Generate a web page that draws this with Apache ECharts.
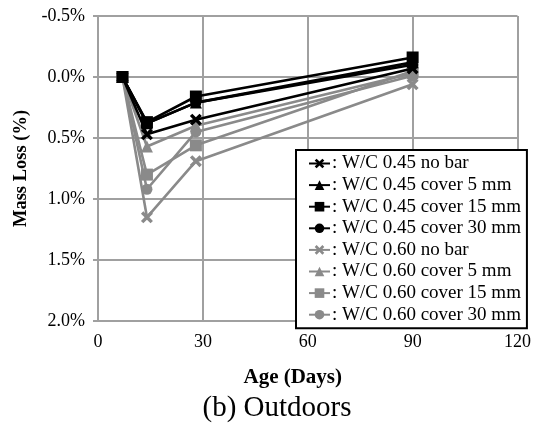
<!DOCTYPE html>
<html>
<head>
<meta charset="utf-8">
<script src="https://cdn.jsdelivr.net/npm/echarts@6/dist/echarts.min.js"></script>
<style>
  html, body { margin: 0; padding: 0; background: #fff; }
  #chart { width: 534px; height: 430px; }
</style>
</head>
<body>
<div id="chart"></div>
<script>
// Measurement ages (days)
const ages = [7, 14, 28, 90];

// Mass loss (%) per specimen group
const wc45NoBar   = [0, 0.47, 0.35, -0.07];
const wc45Cover5  = [0, 0.38, 0.21, -0.12];
const wc45Cover15 = [0, 0.37, 0.16, -0.16];
const wc45Cover30 = [0, 0.38, 0.21, -0.10];
const wc60NoBar   = [0, 1.15, 0.69, 0.06];
const wc60Cover5  = [0, 0.57, 0.40, -0.03];
const wc60Cover15 = [0, 0.80, 0.56, -0.05];
const wc60Cover30 = [0, 0.92, 0.45, -0.01];

const seriesNames = [
  'W/C 0.45 no bar', 'W/C 0.45 cover 5 mm', 'W/C 0.45 cover 15 mm', 'W/C 0.45 cover 30 mm',
  'W/C 0.60 no bar', 'W/C 0.60 cover 5 mm', 'W/C 0.60 cover 15 mm', 'W/C 0.60 cover 30 mm'
];
const seriesValues = [wc45NoBar, wc45Cover5, wc45Cover15, wc45Cover30,
                      wc60NoBar, wc60Cover5, wc60Cover15, wc60Cover30];

// Axis ticks
const xTicks = { min: 0, max: 120, step: 30 };
const yTicks = { min: -0.5, max: 2.0, step: 0.5 };

const BLACK = '#000000';
const GREY = '#8a8a8a';
const GRID = '#a0a0a0';
const FONT = '"Liberation Serif", "DejaVu Serif", serif';

const crossPath = 'path://M2,0 L5,3 L8,0 L10,2 L7,5 L10,8 L8,10 L5,7 L2,10 L0,8 L3,5 L0,2 Z';
const symbols = [crossPath, 'triangle', 'rect', 'circle'];
const symbolSizes = [12, 12, 12, 11];

const series = seriesValues.map((vals, i) => {
  const color = i < 4 ? BLACK : GREY;
  return {
    name: seriesNames[i],
    type: 'line',
    data: ages.map((d, k) => [d, vals[k]]),
    symbol: symbols[i % 4],
    symbolSize: symbolSizes[i % 4],
    showAllSymbol: true,
    itemStyle: { color: color },
    lineStyle: { color: color, width: 2.6 },
    z: i < 4 ? 3 : 2,
    animation: false
  };
}).reverse();

const chart = echarts.init(document.getElementById('chart'), null, { renderer: 'canvas' });
chart.setOption({
  backgroundColor: '#ffffff',
  animation: false,
  grid: { left: 98, right: 16, top: 16, bottom: 109, containLabel: false },
  xAxis: {
    type: 'value',
    min: xTicks.min, max: xTicks.max, interval: xTicks.step,
    name: 'Age (Days)',
    nameLocation: 'middle',
    nameGap: 46,
    nameTextStyle: {
      fontFamily: FONT, fontSize: 21, fontWeight: 'bold', color: '#000',
      padding: [0, 30, 0, 0]
    },
    axisLine: { show: true, lineStyle: { color: GRID, width: 2 } },
    axisTick: { show: false },
    axisLabel: { fontFamily: FONT, fontSize: 18, color: '#000', margin: 12 },
    splitLine: { show: true, lineStyle: { color: GRID, width: 2 } }
  },
  yAxis: {
    type: 'value',
    inverse: true,
    min: yTicks.min, max: yTicks.max, interval: yTicks.step,
    name: 'Mass Loss (%)',
    nameLocation: 'middle',
    nameGap: 67,
    nameRotate: 90,
    nameTextStyle: { fontFamily: FONT, fontSize: 18.5, fontWeight: 'bold', color: '#000' },
    axisLine: { show: true, lineStyle: { color: GRID, width: 2 } },
    axisTick: { show: true, length: 5, inside: false, lineStyle: { color: GRID, width: 2 } },
    axisLabel: {
      fontFamily: FONT, fontSize: 18, color: '#000', margin: 13,
      formatter: v => v.toFixed(1) + '%'
    },
    splitLine: { show: true, lineStyle: { color: GRID, width: 2 } }
  },
  legend: {
    orient: 'vertical',
    left: 296,
    top: 150,
    data: seriesNames,
    backgroundColor: '#ffffff',
    borderColor: '#000',
    borderWidth: 2,
    borderRadius: 0,
    padding: [4, 6, 4, 12],
    itemWidth: 21,
    itemHeight: 12,
    itemGap: 2.6,
    textStyle: { fontFamily: FONT, fontSize: 19, color: '#000', lineHeight: 19, padding: [0, 0, 0, -3] },
    formatter: name => ': ' + name
  },
  graphic: [{
    type: 'text',
    x: 277,
    y: 408,
    style: {
      text: '(b) Outdoors', font: '29px ' + FONT, fill: '#000',
      textAlign: 'center', textVerticalAlign: 'middle'
    }
  }],
  series: series
});
</script>
</body>
</html>
